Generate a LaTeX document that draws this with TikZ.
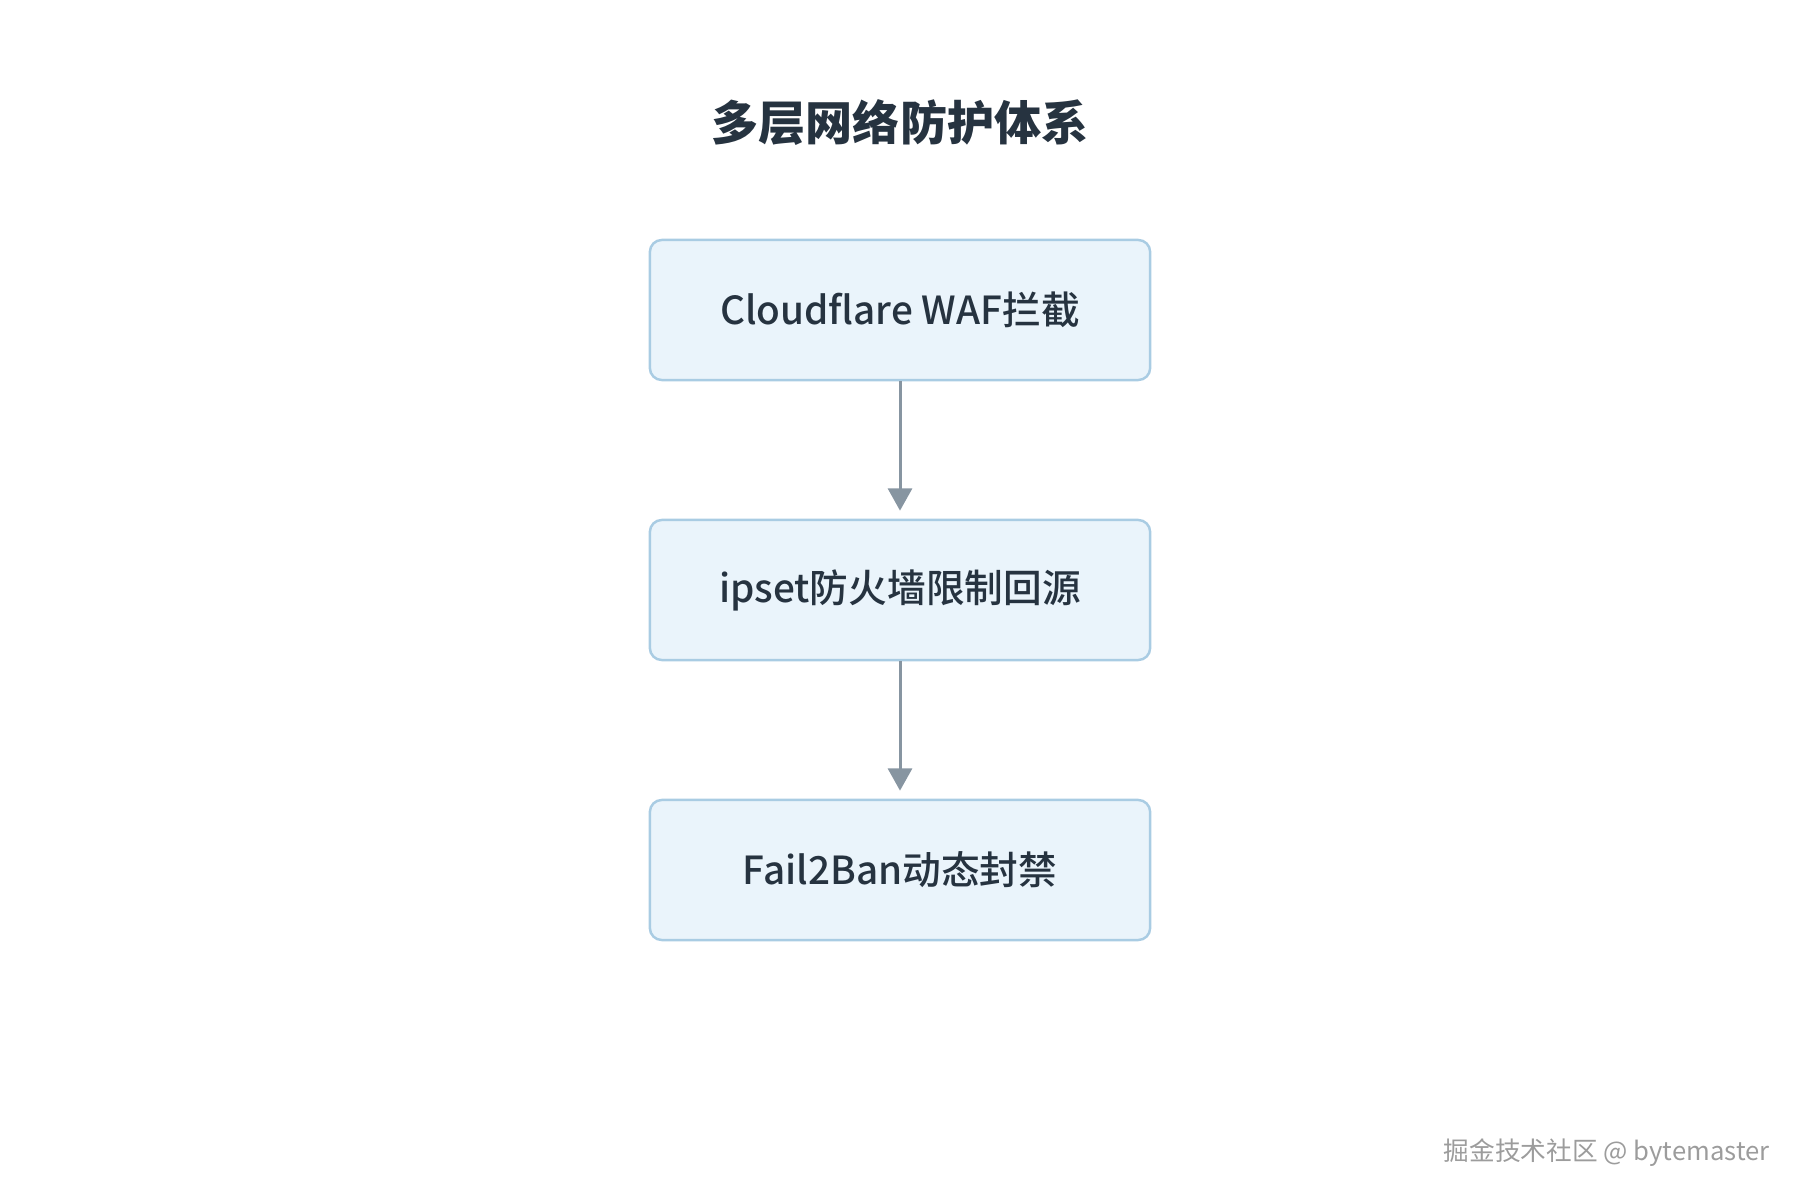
\documentclass[tikz,border=0pt]{standalone}
\usepackage{fontspec}
\setmainfont{Noto Sans CJK SC}
\newfontfamily\medfont{Noto Sans CJK SC Medium}
\usepackage{xcolor}
\usetikzlibrary{arrows.meta,positioning}
\definecolor{boxfill}{HTML}{EAF4FB}
\definecolor{boxline}{HTML}{A9CCE3}
\definecolor{txtdark}{HTML}{263340}
\definecolor{arrowgray}{HTML}{8795A1}
\definecolor{markgray}{HTML}{9C9C9C}

\begin{document}
\begin{tikzpicture}[x=0.01cm, y=-0.01cm, >={Triangle[width=6.8pt,length=6.3pt]},
    font=\medfont\fontsize{11}{13}\selectfont,
    layer/.style={draw=boxline, line width=0.7pt, fill=boxfill, text=txtdark,
      rounded corners=3.4pt, minimum width=5cm, minimum height=1.4cm},
    flow/.style={->, draw=arrowgray, line width=0.85pt, shorten >=2.3pt}]
  \useasboundingbox (0,0) rectangle (1800,1200);
  % title
  \node[text=txtdark, font=\bfseries\fontsize{13.4}{16}\selectfont] (title) at (900,123) {多层网络防护体系};
  % layers
  \def\xc{900}
  \node[layer] (waf) at (\xc,310) {Cloudflare WAF拦截};
  \node[layer] (ipset) at (\xc,590) {ipset防火墙限制回源};
  \node[layer] (ban) at (\xc,870) {Fail2Ban动态封禁};
  \draw[flow] (waf) -- (ipset);
  \draw[flow] (ipset) -- (ban);
  % watermark
  \node[text=markgray, anchor=east, font=\fontsize{7.3}{8}\selectfont] (mark) at (1782,1153) {掘金技术社区 @ bytemaster};
\end{tikzpicture}
\end{document}
